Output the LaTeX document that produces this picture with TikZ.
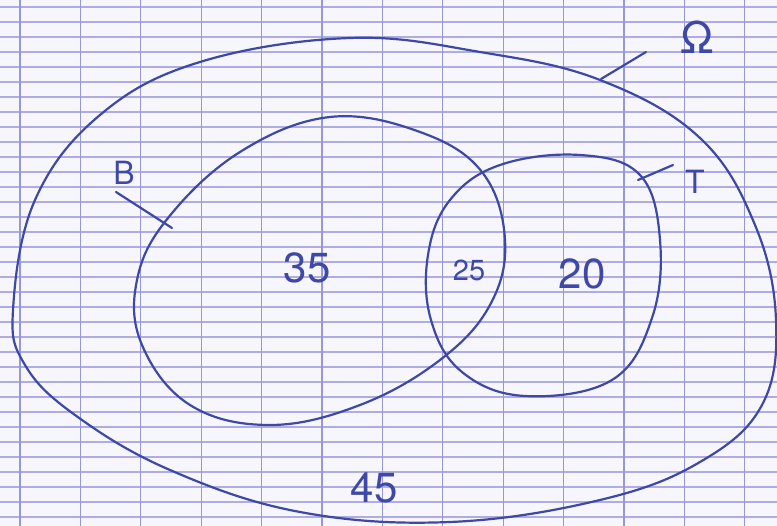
\documentclass[tikz,border=0pt]{standalone}
\usepackage{fontspec}
\setsansfont{TeX Gyre Heros}
\definecolor{ink}{RGB}{62,72,165}
\definecolor{paper}{RGB}{246,246,252}
\definecolor{gridh}{RGB}{175,172,228}
\definecolor{gridv}{RGB}{150,150,220}
\tikzset{
  curve/.style={draw=ink, line width=2.2pt, line cap=round, line join=round},
  pointer/.style={draw=ink, line width=2.2pt, line cap=round},
  num/.style={text=ink, font=\sffamily\fontsize{42}{42}\selectfont, inner sep=0pt},
  smallnum/.style={text=ink, font=\sffamily\fontsize{29}{29}\selectfont, inner sep=0pt},
  setlabel/.style={text=ink, font=\sffamily\fontsize{32}{32}\selectfont, inner sep=0pt}
}
\begin{document}
\begin{tikzpicture}[x=1pt,y=-1pt]
\useasboundingbox (0,0) rectangle (777,526);
\fill[paper] (0,0) rectangle (777,526);
% graph paper
\foreach \k in {0,...,34} {
  \draw[gridh, line width=1.2pt] (0,{7+15*\k}) -- (777,{7+15*\k});
}
\foreach \k in {0,...,12} {
  \draw[gridv, line width=1.2pt] ({20+60.4*\k},0) -- ({20+60.4*\k},526);
}
% Omega
\draw[curve] plot[smooth cycle, tension=0.65] coordinates {
  (13,310) (35,200) (100,115) (200,62) (350,38) (480,52) (600,80)
  (700,138) (755,225) (776,320) (762,405) (700,462) (600,500)
  (450,522) (300,512) (170,470) (75,415) (25,365)};
% B
\draw[curve] plot[smooth cycle, tension=0.65] coordinates {
  (330,117) (420,132) (482,172) (505,240) (490,305) (440,360)
  (360,405) (270,425) (190,405) (142,345) (137,280) (168,218) (240,152)};
% T
\draw[curve] plot[smooth cycle, tension=0.65] coordinates {
  (580,155) (640,175) (660,240) (652,318) (612,380) (525,396)
  (462,372) (431,320) (428,255) (450,200) (500,165)};
% labels
\node[setlabel, font=\sffamily\fontsize{44}{44}\selectfont] (lO) at (697,37) {Ω};
\node[setlabel] (lB) at (124,173) {B};
\node[setlabel] (lT) at (695,182) {T};
\coordinate (pO1) at (646,52);
\coordinate (pO2) at (601,79);
\coordinate (pB1) at (116,192);
\coordinate (pB2) at (172,228);
\coordinate (pT1) at (673,165);
\coordinate (pT2) at (638,180);
\draw[pointer] (pO1) -- (pO2);
\draw[pointer] (pB1) -- (pB2);
\draw[pointer] (pT1) -- (pT2);
% numbers
\node[num] (n35) at (307,268) {35};
\node[smallnum] (n25) at (469,270) {25};
\node[num] (n20) at (582,274) {20};
\node[num] (n45) at (374,488) {45};
\end{tikzpicture}
\end{document}
